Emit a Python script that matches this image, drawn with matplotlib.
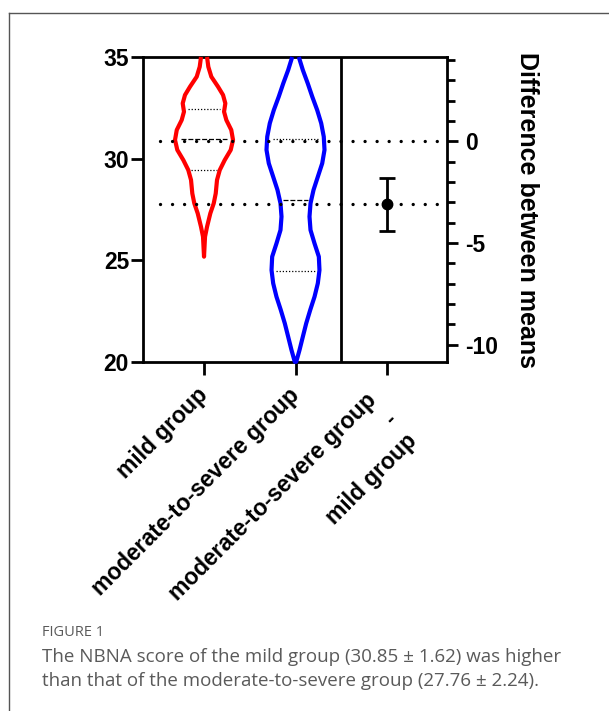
import numpy as np
import matplotlib.pyplot as plt
from matplotlib.lines import Line2D
from matplotlib.transforms import ScaledTranslation

plt.rcParams['font.family'] = ['Liberation Sans', 'DejaVu Sans']
plt.rcParams['axes.unicode_minus'] = False

groups = ['mild group', 'moderate-to-severe group',
          'moderate-to-severe group\n-\nmild group']

# violin outlines: NBNA score and half width (x units)
mild_y = [35.00, 34.52, 34.03, 33.54, 33.13, 32.72, 32.31, 31.90, 31.41, 30.92,
          30.43, 29.93, 29.44, 28.95, 28.29, 27.80, 27.31, 26.65, 26.16, 25.18]
mild_hw = [0.033, 0.047, 0.080, 0.153, 0.208, 0.233, 0.219, 0.244, 0.298, 0.317,
           0.292, 0.226, 0.172, 0.142, 0.128, 0.106, 0.069, 0.033, 0.011, 0.0]
mod_y = [35.00, 34.36, 33.70, 33.05, 32.39, 31.74, 31.08, 30.43, 29.77, 29.11,
         28.46, 27.80, 27.15, 26.49, 25.83, 25.18, 24.52, 23.87, 23.21, 22.56,
         21.90, 21.24, 20.59, 20.01]
mod_hw = [0.036, 0.080, 0.134, 0.183, 0.237, 0.281, 0.309, 0.317, 0.292, 0.244,
          0.197, 0.164, 0.153, 0.164, 0.208, 0.255, 0.262, 0.244, 0.208, 0.161,
          0.117, 0.080, 0.044, 0.008]

# lower quartile, median, upper quartile
mild_quart = [29.44, 30.98, 32.44]
mod_quart = [24.49, 27.97, 30.97]

mild_mean = 30.85
mod_mean = 27.76
diff_mean = -3.09
diff_ci = [-4.41, -1.82]


def draw_violin(ax, x0, ys, hws, quart, color):
    ys = np.array(ys)
    hws = np.array(hws)
    xs = np.concatenate([x0 - hws, (x0 + hws)[::-1]])
    yy = np.concatenate([ys, ys[::-1]])
    ax.plot(xs, yy, color=color, lw=3, solid_joinstyle='round',
            solid_capstyle='butt', clip_on=False, zorder=3)
    for i, q in enumerate(quart):
        w = 0.8 * np.interp(q, ys[::-1], hws[::-1])
        if i == 1:
            ls = (0, (4, 1.5))
        else:
            ls = (0, (1, 1.5))
        ax.plot([x0 - w, x0 + w], [q, q], color='black', lw=0.9, ls=ls, zorder=2)


def main():
    fig = plt.figure(figsize=(6.09, 7.11), dpi=100)
    ax = fig.add_axes([143 / 609, 1 - 362 / 711, 304 / 609, 305 / 711])

    draw_violin(ax, 0, mild_y, mild_hw, mild_quart, '#ff0000')
    draw_violin(ax, 1, mod_y, mod_hw, mod_quart, '#0000ff')

    dots = (0, (0.01, 3.6))
    for m in (mild_mean, mod_mean):
        ax.axhline(m, xmin=0.056, xmax=1, color='black', lw=2.4, ls=dots,
                   dash_capstyle='round', zorder=4)
    ax.axvline(1.5, color='black', lw=2)

    ax.set_xlim(-0.667, 2.656)
    ax.set_ylim(20, 35)
    ax.set_yticks([20, 25, 30, 35])
    ax.set_xticks([0, 1, 2])
    ax.set_xticklabels(groups, rotation=45, ha='right', va='center',
                       rotation_mode='anchor', fontsize=16.5, fontweight='bold',
                       linespacing=1.3)
    for lab in ax.get_yticklabels():
        lab.set_fontweight('bold')
    ax.tick_params(axis='y', length=8.5, width=2, labelsize=16.5, pad=1.5)
    ax.tick_params(axis='x', length=9, width=2, pad=12.5)
    for s in ax.spines.values():
        s.set_linewidth(2)
    ax.spines['right'].set_visible(False)

    # third label sits a bit lower and right
    lab3 = ax.get_xticklabels()[2]
    lab3.set_transform(lab3.get_transform()
                       + ScaledTranslation(0.06, -0.25, fig.dpi_scale_trans))

    # difference between means axis
    ax2 = ax.twinx()
    ax2.set_ylim(20 - mild_mean, 35 - mild_mean)
    ax2.errorbar([2], [diff_mean],
                 yerr=[[diff_mean - diff_ci[0]], [diff_ci[1] - diff_mean]],
                 fmt='o', color='black', ms=7.5, elinewidth=2, capsize=5.5,
                 capthick=2, zorder=5)
    ax2.set_yticks([0, -5, -10])
    ax2.set_yticklabels(['0', '-5', '-10'], fontweight='bold')
    ax2.set_yticks(np.arange(-10, 5, 1), minor=True)
    ax2.tick_params(axis='y', which='major', length=8, width=2, labelsize=16.5, pad=5)
    ax2.tick_params(axis='y', which='minor', length=6, width=2)
    for k in ('left', 'top', 'bottom'):
        ax2.spines[k].set_visible(False)
    ax2.spines['right'].set_linewidth(2)
    ax2.set_ylabel('Difference between means', rotation=270, fontsize=18,
                   fontweight='bold', va='center', ha='center')
    ax2.yaxis.set_label_coords(1.263, 0.5)

    # frame and caption
    fig.add_artist(Line2D([9 / 609, 9 / 609], [0, 1 - 13 / 711],
                          transform=fig.transFigure, color='#555555', lw=1))
    fig.add_artist(Line2D([9 / 609, 1], [1 - 13 / 711, 1 - 13 / 711],
                          transform=fig.transFigure, color='#555555', lw=1))
    cap = dict(family=['Open Sans', 'DejaVu Sans'], color='#5a5a5a', va='center')
    fig.text(42 / 609, 1 - 632 / 711, 'FIGURE 1', fontsize=10.5, **cap)
    fig.text(42 / 609, 1 - 657 / 711,
             'The NBNA score of the mild group (30.85 \u00b1 1.62) was higher',
             fontsize=13.5, **cap)
    fig.text(42 / 609, 1 - 681 / 711,
             'than that of the moderate-to-severe group (27.76 \u00b1 2.24).',
             fontsize=13.5, **cap)

    fig.savefig('out.png', dpi=100)


if __name__ == "__main__":
    main()
